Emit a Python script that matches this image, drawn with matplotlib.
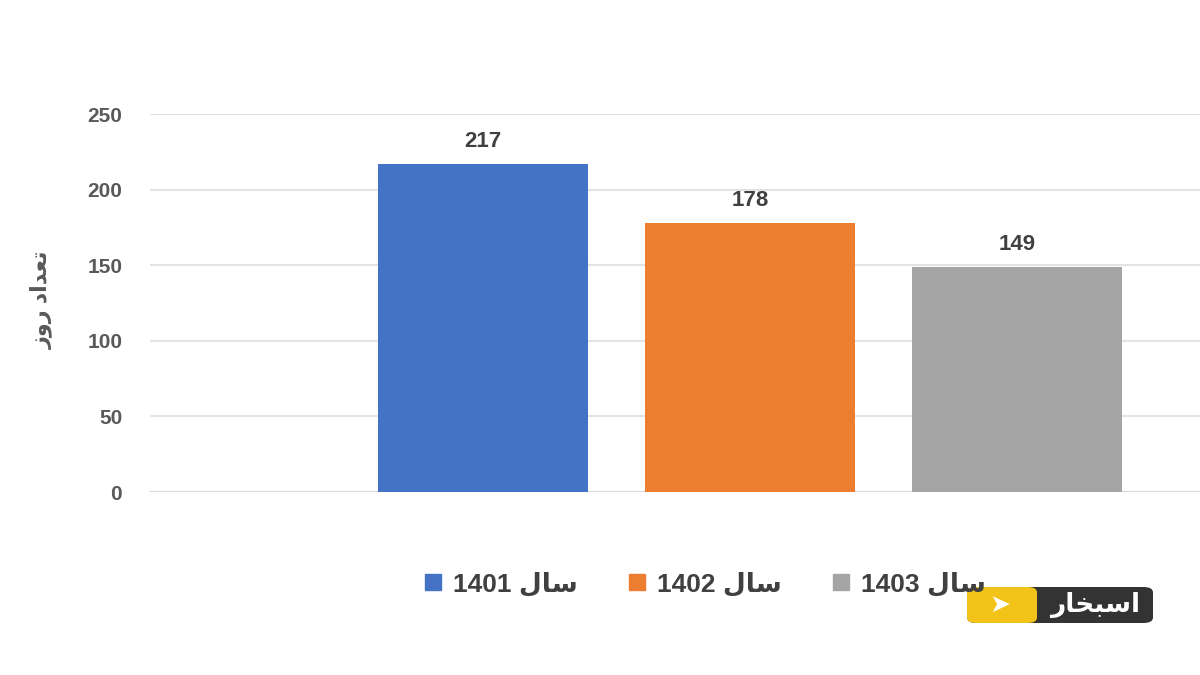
import matplotlib
matplotlib.use('Agg')
import matplotlib.pyplot as plt
import matplotlib.patches as patches
from matplotlib.lines import Line2D

plt.rcParams['font.family'] = ['Liberation Sans', 'DejaVu Sans']

# data
years = ['1401', '1402', '1403']
days = [217, 178, 149]
colors = ['#4472C4', '#ED7D31', '#A5A5A5']
yticks = [0, 50, 100, 150, 200, 250]

# Arabic text already shaped (presentation forms, visual order)
SAL = '\uFEDD\uFE8E\uFEB3'                                   # سال
YLABEL = '\uFEAF\uFEED\uFEAD \uFEA9\uFE8D\uFEAA\uFECC\uFE97'  # تعداد روز
LOGO = '\uFEAD\uFE8E\uFEA8\uFE92\uFEB3\uFE8D'                 # اسبخار

fig = plt.figure(figsize=(12, 6.75), dpi=100)
ax = fig.add_axes([0.125, 0.2711, 0.875, 0.56])

x = list(range(len(days)))
ax.bar(x, days, width=0.787, color=colors, zorder=3)
for xi, v in zip(x, days):
    ax.text(xi, v + 8, str(v), ha='center', va='bottom', fontsize=16,
            fontweight='bold', color='#404040')

ax.set_xlim(-1.247, 2.685)
ax.set_ylim(0, 250)
ax.set_yticks(yticks)
ax.set_yticklabels([str(t) for t in yticks], fontsize=15, fontweight='bold',
                   color='#595959')
ax.tick_params(axis='y', length=0, pad=20)
ax.set_xticks([])
ax.grid(axis='y', color='#e3e3e3', linewidth=1.5, zorder=0)
ax.set_axisbelow(True)
for s in ax.spines.values():
    s.set_visible(False)
ax.axhline(0, color='#d9d9d9', linewidth=1.5, zorder=2)

fig.text(0.035, 1 - 300 / 675, YLABEL, rotation=90, ha='center', va='center',
         fontsize=16, fontweight='bold', color='#595959')

handles = [Line2D([], [], marker='s', linestyle='none', markersize=12,
                  markerfacecolor=c, markeredgecolor=c) for c in colors]
labels = [f'{y} {SAL}' for y in years]
fig.legend(handles, labels, loc='center', ncol=3,
           bbox_to_anchor=(0.586, 1 - 584 / 675), frameon=False,
           prop={'size': 19, 'weight': 'bold'}, labelcolor='#404040',
           handletextpad=0.3, columnspacing=1.8, handlelength=0.9)

# logo
fig.patches.append(patches.FancyBboxPatch(
    (967 / 1200, 1 - 623 / 675), 186 / 1200, 36 / 675,
    boxstyle='round,pad=0,rounding_size=0.008', transform=fig.transFigure,
    facecolor='#333333', edgecolor='none', zorder=5))
fig.patches.append(patches.FancyBboxPatch(
    (967 / 1200, 1 - 623 / 675), 70 / 1200, 36 / 675,
    boxstyle='round,pad=0,rounding_size=0.008', transform=fig.transFigure,
    facecolor='#F2C318', edgecolor='none', zorder=5))
fig.text(1000 / 1200, 1 - 605 / 675, '\u27A4', ha='center', va='center',
         fontsize=18, color='white', family='DejaVu Sans', zorder=6)
fig.text(1095 / 1200, 1 - 605 / 675, LOGO, ha='center', va='center',
         fontsize=19, fontweight='bold', color='white', zorder=6)

fig.savefig('out.png', dpi=100)
